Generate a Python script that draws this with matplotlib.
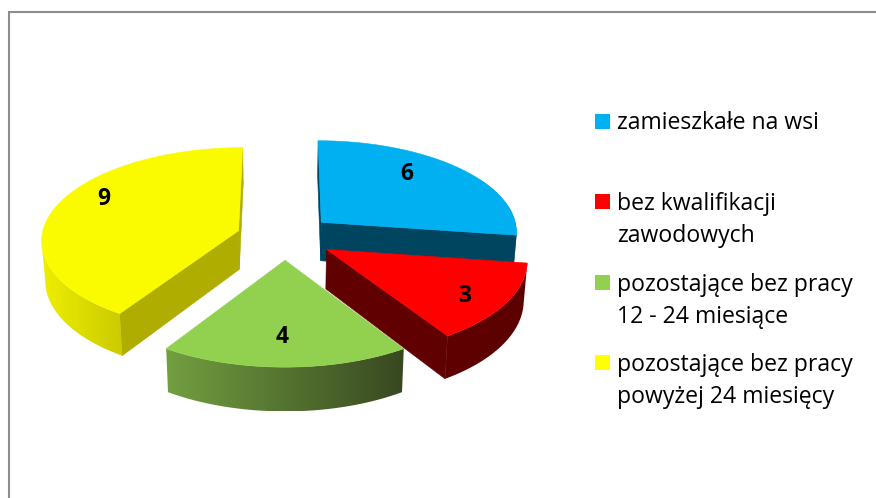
import numpy as np
import matplotlib
matplotlib.use("Agg")
import matplotlib.pyplot as plt
from matplotlib.colors import LinearSegmentedColormap
from matplotlib.patches import Polygon, Rectangle

# ---- data ----
categories = ["zamieszkałe na wsi", "bez kwalifikacji\nzawodowych",
              "pozostające bez pracy\n12 - 24 miesiące",
              "pozostające bez pracy\npowyżej 24 miesięcy"]
values = [6, 3, 4, 9]

# ---- styles and layout ----
top_colors = ["#00B0F0", "#FF0000", "#92D050", "#FBFB00"]
legend_colors = ["#00B0F0", "#FF0000", "#92D050", "#FFFF00"]
cut_colors = ["#00455F", "#600000", "#3A4A20", "#AFAD00"]
arc_left = ["#00455F", "#600000", "#729F40", "#EEEE00"]
arc_right = ["#00455F", "#5C0000", "#384820", "#CBCB00"]
CX, CY = 285, 237
RX, RY, PERSP = 197, 92, 0.095
EXPLODE = 0.247
DEPTH, SHRINK = 39, 0.985
label_pos = [(407, 173.5), (465, 295.5), (282, 336.5), (104, 198.5)]
legend_y = [121.5, 201.5, 282.5, 362.5]
legend_baselines = [[129], [210, 241.6], [291, 322.7], [371, 402.5]]
FONT = "Open Sans"
LEGEND_SIZE = 16.6

fig = plt.figure(figsize=(8.76, 4.98), dpi=100)
ax = fig.add_axes([0, 0, 1, 1])

ax.plot([8.7, 8.7, 876], [498, 12, 12], color="#8C8C8C", lw=1.5,
        solid_joinstyle="miter", zorder=1)


def project(theta, r, mid):
    wx = EXPLODE * np.sin(mid) + r * np.sin(theta)
    wy = EXPLODE * np.cos(mid) + r * np.cos(theta)
    s = 1 / (1 + PERSP * wy)
    return CX + RX * wx * s, CY - RY * wy * s, s


def lower(p):
    x, y, s = p
    return CX + (x - CX) * SHRINK, y + DEPTH * s


def wall(p, q, color, z):
    ax.add_patch(Polygon([p[:2], q[:2], lower(q), lower(p)], closed=True,
                         fc=color, ec=color, lw=0.4, zorder=z))


edges = np.cumsum([0] + values) / sum(values) * 2 * np.pi
draw_order = [0, 1, 3, 2]
for i in draw_order:
    t0, t1 = edges[i], edges[i + 1]
    mid = (t0 + t1) / 2
    z = 2 + draw_order.index(i) * 5
    centre = project(0.0, 0.0, mid)
    # flat cut faces, only those turned toward the viewer
    if np.cos(t0 - np.pi / 2) < 1e-9:
        wall(centre, project(t0, 1, mid), cut_colors[i], z)
    if np.cos(t1 + np.pi / 2) < 1e-9:
        wall(centre, project(t1, 1, mid), cut_colors[i], z)
    # curved side between its left and right silhouette points, shaded smoothly
    th = np.linspace(t0, t1, 200)
    pts = [project(a, 1, mid) for a in th]
    front = [p for a, p in zip(th, pts) if np.cos(a) < 0.5]
    xs = [p[0] for p in front]
    a, b = sorted((int(np.argmin(xs)), int(np.argmax(xs))))
    vis = front[a:b + 1]
    outline = [p[:2] for p in vis] + [lower(p) for p in vis[::-1]]
    clip = Polygon(outline, closed=True, fc="none", ec="none",
                   transform=ax.transData)
    ax.add_patch(clip)
    xy = np.array(outline)
    cmap = LinearSegmentedColormap.from_list("s", [arc_left[i], arc_right[i]])
    im = ax.imshow(np.linspace(0, 1, 256)[None, :], cmap=cmap, aspect="auto",
                   extent=(xy[:, 0].min(), xy[:, 0].max(),
                           xy[:, 1].max(), xy[:, 1].min()),
                   zorder=z + 1, interpolation="bilinear")
    im.set_clip_path(clip)
    # top face
    outline = [centre[:2]] + [p[:2] for p in pts]
    ax.add_patch(Polygon(outline, closed=True, fc=top_colors[i],
                         ec=top_colors[i], lw=0.4, zorder=z + 2))
    ax.text(*label_pos[i], str(values[i]), fontsize=16.5, fontweight="bold",
            family=FONT, ha="center", va="center", color="black", zorder=z + 3)

for cat, col, yc, bases in zip(categories, legend_colors, legend_y, legend_baselines):
    ax.add_patch(Rectangle((595, yc - 7.5), 15, 15, fc=col, ec="none", zorder=40))
    for line, b in zip(cat.split("\n"), bases):
        ax.text(617, b, line, fontsize=LEGEND_SIZE, family=FONT, ha="left",
                va="baseline", color="black", zorder=40)

ax.set_xlim(0, 876)
ax.set_ylim(498, 0)
ax.axis("off")
fig.savefig("out.png", dpi=100)
